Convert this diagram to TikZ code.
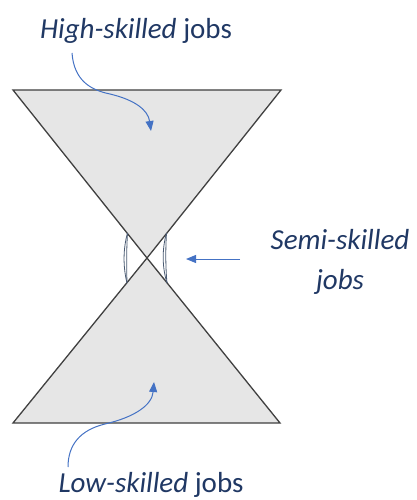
\documentclass[tikz,border=0pt]{standalone}
\usepackage{fontspec}
\setmainfont{Carlito}
\usetikzlibrary{arrows.meta}
\definecolor{navy}{HTML}{203864}
\definecolor{arrblue}{HTML}{4472C4}
\definecolor{tri}{HTML}{E6E6E6}
\definecolor{edge}{HTML}{404040}
\definecolor{lens}{HTML}{4A5A72}
\begin{document}
\begin{tikzpicture}[x=1pt,y=-1pt,
  lbl/.style={text=navy,font=\fontsize{29}{40}\selectfont,inner sep=0pt},
  tribox/.style={fill=tri,draw=edge,line width=1.3pt,line join=miter},
  arr/.style={draw=arrblue,line width=1pt,-{Triangle[length=10pt,width=8pt]}},
  lensline/.style={draw=lens,line width=0.8pt}]
\useasboundingbox (0,0) rectangle (416,500);
\coordinate (tl) at (13,90);
\coordinate (tr) at (281,90);
\coordinate (c) at (147,258);
\coordinate (bl) at (13,423);
\coordinate (br) at (280,423);
\path[tribox] (tl) -- (tr) -- (c) -- cycle;
\path[tribox] (bl) -- (br) -- (c) -- cycle;
% lens shapes
\coordinate (la) at (127.5,233);
\coordinate (lb) at (127,283);
\coordinate (ra) at (166.5,233);
\coordinate (rb) at (167,283);
\draw[lensline] (la) .. controls (123,249) and (123,267) .. (lb);
\draw[lensline] (la) .. controls (126.5,249) and (126.5,267) .. (lb);
\draw[lensline] (ra) .. controls (162,249) and (162,267) .. (rb);
\draw[lensline] (ra) .. controls (165.5,249) and (165.5,267) .. (rb);
% labels
\node[lbl] (high) at (136,31) {\textit{High-skilled} jobs};
\node[lbl,align=center] (semi) at (340,262) {\textit{Semi-skilled}\\\textit{jobs}};
\node[lbl,anchor=base] (low) at (151,492) {\textit{Low-skilled} jobs};
% arrows
\coordinate (h0) at (72,53);
\coordinate (h1) at (151,131);
\draw[arr] (h0) .. controls (74,80) and (90,90) .. (110,94) .. controls (135,100) and (148,110) .. (h1);
\coordinate (l0) at (68,467);
\coordinate (l1) at (154,382);
\draw[arr] (l0) .. controls (68,445) and (80,430) .. (105,424) .. controls (135,417) and (152,405) .. (l1);
\coordinate (s0) at (240,259);
\coordinate (s1) at (186,259);
\draw[arr] (s0) -- (s1);
\end{tikzpicture}
\end{document}
